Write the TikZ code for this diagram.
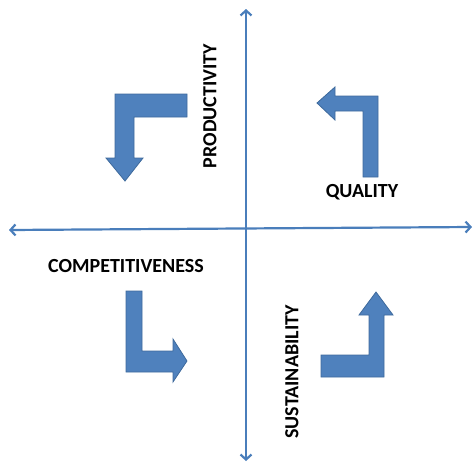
\documentclass[tikz,border=0pt]{standalone}
\usepackage{fontspec}
\setmainfont{Carlito}
\usetikzlibrary{arrows.meta}
\definecolor{axisblue}{HTML}{4A7EBB}
\definecolor{arrowfill}{HTML}{4F81BD}
\definecolor{arrowedge}{HTML}{3E6A9C}
\tikzset{
  axis/.style={draw=axisblue, line width=2.2pt,
    {Straight Barb[length=5pt,width=11pt,line width=2.2pt]}-{Straight Barb[length=5pt,width=11pt,line width=2.2pt]}},
  bentarrow/.style={fill=arrowfill, draw=arrowedge, line width=0.8pt, line join=miter},
  label/.style={font=\bfseries\fontsize{20}{22}\selectfont, inner sep=0pt, text=black}
}
\begin{document}
\begin{tikzpicture}[x=1pt, y=-1pt]
  \useasboundingbox (0,0) rectangle (475,464);

  % axes
  \coordinate (top) at (246,9);
  \coordinate (bottom) at (246,461);
  \coordinate (left) at (9,230);
  \coordinate (right) at (472,227);
  \draw[axis] (left) -- (right);
  \draw[axis] (top) -- (bottom);

  % upper left: right then down
  \draw[bentarrow] (187,94) -- (115,94) -- (115,158) -- (106,158) -- (125,181)
    -- (143,158) -- (134,158) -- (134,117) -- (187,117) -- cycle;
  % upper right: up then left
  \draw[bentarrow] (378,177) -- (378,96) -- (335,96) -- (335,87) -- (317,103)
    -- (335,120) -- (335,111) -- (363,111) -- (363,177) -- cycle;
  % lower left: down then right
  \draw[bentarrow] (126,291) -- (142,291) -- (142,351) -- (173,351) -- (173,339)
    -- (187,361) -- (173,382) -- (173,372) -- (126,372) -- cycle;
  % lower right: right then up
  \draw[bentarrow] (321,355) -- (369,355) -- (369,315) -- (359,315) -- (376,292)
    -- (393,315) -- (384,315) -- (384,377) -- (321,377) -- cycle;

  % quadrant labels
  \node[label, rotate=90] (productivity) at (210,106) {PRODUCTIVITY};
  \node[label] (quality) at (362,192) {QUALITY};
  \node[label] (competitiveness) at (126,266) {COMPETITIVENESS};
  \node[label, rotate=90] (sustainability) at (292,372) {SUSTAINABILITY};
\end{tikzpicture}
\end{document}
